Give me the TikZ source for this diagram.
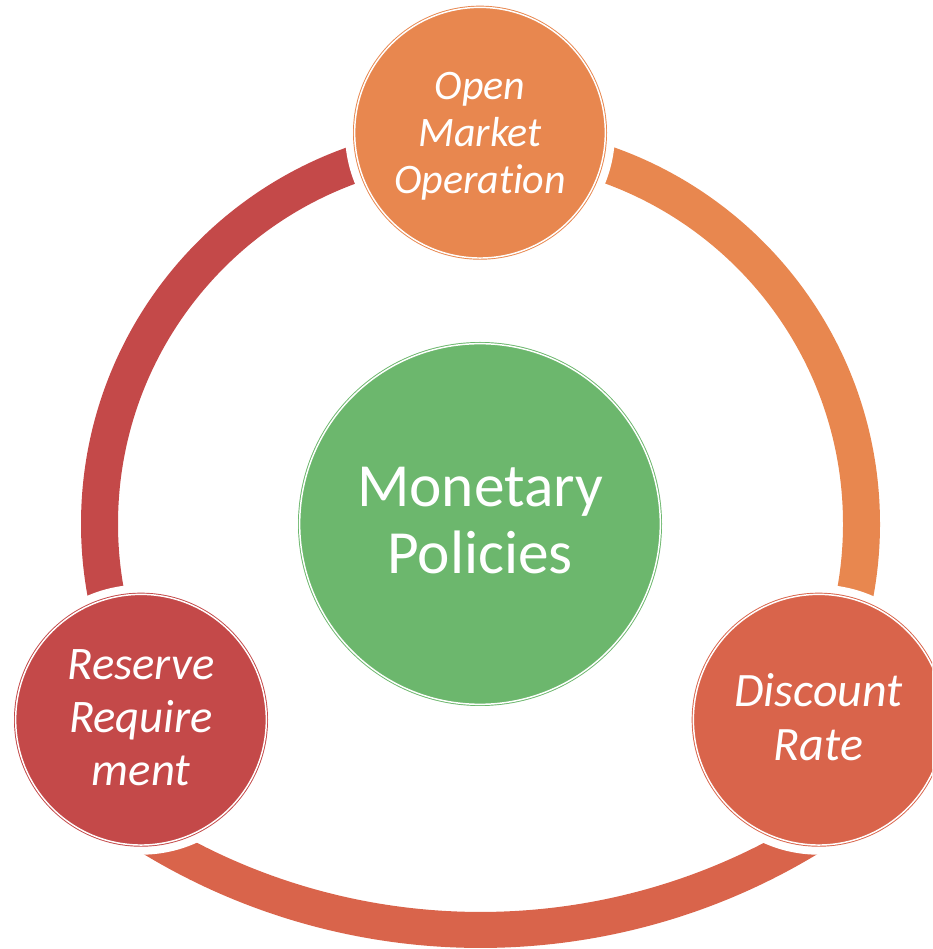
\documentclass[tikz,border=0pt]{standalone}
\usepackage{fontspec}
\setmainfont{Carlito}[Ligatures={NoCommon}]
\begin{document}
\begin{tikzpicture}[x=0.75pt,y=0.75pt]
\definecolor{opOrange}{HTML}{E8874F}
\definecolor{discRed}{HTML}{D9644B}
\definecolor{resRed}{HTML}{C44949}
\definecolor{polGreen}{HTML}{6CB76D}
\tikzset{
  band/.style={line width=27.75pt, line cap=butt},
  halo/.style={fill=white},
  sat/.style={circle, inner sep=0pt, minimum size=188pt, line width=0.7pt,
              double=white, double distance=1.1pt},
  hubnode/.style={circle, inner sep=0pt, minimum size=270.5pt, line width=0.7pt,
              double=white, double distance=1.1pt},
  lbl/.style={text=white, align=center, inner sep=0pt},
}
\useasboundingbox (0,0) rectangle (932,949);
\clip (0,0) rectangle (932,949);

% centres of the cycle arcs
\coordinate (ringc) at (480.5,425);
\coordinate (lowc) at (480.5,652);

% node positions
\coordinate (pOpen) at (480,816.3);
\coordinate (pRes) at (141,229.3);
\coordinate (pDisc) at (818.7,229.3);

% cycle arcs
\draw[band, draw=resRed] ([shift={(90:381)}]ringc) arc[start angle=90, end angle=210, radius=381];
\draw[band, draw=opOrange] ([shift={(90:381)}]ringc) arc[start angle=90, end angle=-30, radius=381];
\draw[band, line width=27pt, draw=discRed] ([shift={(231.1:633)}]lowc) arc[start angle=231.1, end angle=308.9, radius=633];

% white gaps around the outer circles
\fill[halo] (pOpen) circle[radius=135];
\fill[halo] (pRes) circle[radius=135];
\fill[halo] (pDisc) circle[radius=135];

% circles
\node[sat, fill=opOrange, draw=opOrange] (open) at (pOpen) {};
\node[sat, fill=resRed, draw=resRed] (res) at (pRes) {};
\node[sat, fill=discRed, draw=discRed] (disc) at (pDisc) {};
\node[hubnode, fill=polGreen, draw=polGreen] (hub) at (480,425) {};

% labels
\node[lbl, font=\fontsize{31.5pt}{35pt}\selectfont\itshape] (openTxt) at (480,811.7)
  {\strut Open\\\strut Market\\\strut Operation};
\node[lbl, font=\fontsize{35pt}{39.4pt}\selectfont\itshape] (resTxt) at (141,227)
  {\strut Reserve\\\strut Require\\\strut ment};
\node[lbl, font=\fontsize{36pt}{40pt}\selectfont\itshape] (discTxt) at (818.5,226.3)
  {\strut Discount\\\strut Rate};
\node[lbl, font=\fontsize{46pt}{50pt}\selectfont] (hubTxt) at (480,422.3)
  {\strut Monetary\\\strut Policies};
\end{tikzpicture}
\end{document}
